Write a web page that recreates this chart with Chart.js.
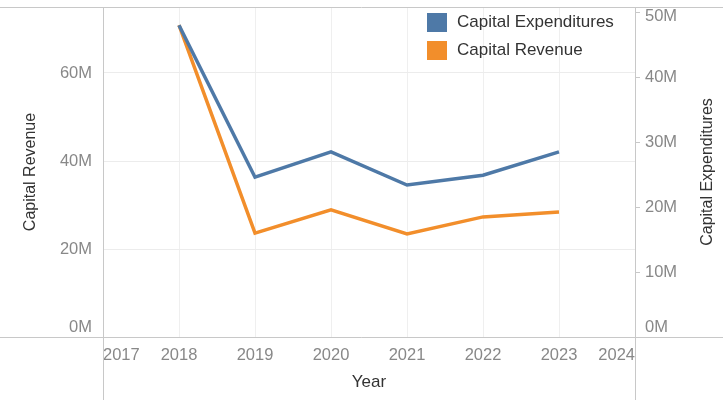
<!DOCTYPE html>
<html>
<head>
<meta charset="utf-8">
<script src="https://cdn.jsdelivr.net/npm/chart.js@4"></script>
<style>
  body { margin: 0; background: #fff; }
  #wrap { position: relative; width: 723px; height: 400px; font-family: "Liberation Sans", Arial, sans-serif; }
  #legend { position: absolute; left: 427px; top: 8px; }
  .item { display: flex; align-items: center; height: 28px; font-size: 17px; color: #333; }
  .swatch { width: 20px; height: 19px; margin-right: 10px; }
</style>
</head>
<body>
<div id="wrap">
  <canvas id="capChart" width="723" height="400"></canvas>
  <div id="legend"></div>
</div>
<script>
// values
const years = [2018, 2019, 2020, 2021, 2022, 2023];
const capitalExpenditures = [48.0, 24.6, 28.5, 23.4, 24.9, 28.5]; // millions, right axis
const capitalRevenue = [70.9, 23.6, 28.9, 23.4, 27.3, 28.4];     // millions, left axis
const yearTicks = [2017, 2018, 2019, 2020, 2021, 2022, 2023, 2024];

const BLUE = '#4e79a7';
const ORANGE = '#f28e2b';
const FONT = '"Liberation Sans", Arial, sans-serif';

const toPoints = vals => years.map((y, i) => ({ x: y, y: vals[i] }));

// fixed box sizes, no label overhang padding
const fixWidth = w => s => { s.width = w; s.paddingTop = 0; s.paddingBottom = 0; };

// pane borders like the original dashboard
const frame = {
    id: 'frame',
    afterDraw(chart) {
        const { ctx, chartArea: a, width, height } = chart;
        ctx.save();
        ctx.strokeStyle = '#c8c8c8';
        ctx.lineWidth = 1;
        ctx.beginPath();
        ctx.moveTo(0, a.top + 0.5); ctx.lineTo(width, a.top + 0.5);
        ctx.moveTo(0, a.bottom + 0.5); ctx.lineTo(width, a.bottom + 0.5);
        ctx.moveTo(a.left + 0.5, a.top); ctx.lineTo(a.left + 0.5, height);
        ctx.moveTo(a.right + 0.5, a.top); ctx.lineTo(a.right + 0.5, height);
        ctx.stroke();
        // right axis title reads bottom to top
        ctx.translate(708, (a.top + a.bottom) / 2);
        ctx.rotate(-Math.PI / 2);
        ctx.fillStyle = '#333';
        ctx.font = '16px ' + FONT;
        ctx.textAlign = 'center';
        ctx.textBaseline = 'middle';
        ctx.fillText('Capital Expenditures', 0, 0);
        ctx.restore();
    }
};

const chart = new Chart(document.getElementById('capChart'), {
    type: 'line',
    data: {
        datasets: [{
            label: 'Capital Expenditures',
            data: toPoints(capitalExpenditures),
            borderColor: BLUE,
            backgroundColor: BLUE,
            borderWidth: 3.5,
            pointRadius: 0,
            yAxisID: 'yRight'
        }, {
            label: 'Capital Revenue',
            data: toPoints(capitalRevenue),
            borderColor: ORANGE,
            backgroundColor: ORANGE,
            borderWidth: 3.5,
            pointRadius: 0,
            yAxisID: 'yLeft'
        }]
    },
    options: {
        responsive: false,
        animation: false,
        layout: { autoPadding: false, padding: { top: 7 } },
        plugins: {
            legend: { display: false },
            tooltip: { enabled: false }
        },
        scales: {
            x: {
                type: 'linear',
                min: yearTicks[0],
                max: yearTicks[yearTicks.length - 1],
                afterBuildTicks: s => { s.ticks = yearTicks.map(v => ({ value: v })); },
                afterFit: s => { s.height = 63; s.paddingLeft = 0; s.paddingRight = 0; },
                border: { display: false },
                grid: { color: '#efefef', drawTicks: false },
                ticks: {
                    align: 'inner',
                    padding: 9,
                    color: '#888',
                    font: { family: FONT, size: 16.5 },
                    callback: v => String(v)
                },
                title: {
                    display: true,
                    text: 'Year',
                    color: '#333',
                    font: { family: FONT, size: 17 },
                    padding: { top: 0, bottom: 7 }
                }
            },
            yLeft: {
                position: 'left',
                min: 0,
                max: 75,
                afterFit: fixWidth(103),
                border: { display: false },
                grid: { color: '#ececec', drawTicks: false },
                ticks: {
                    stepSize: 20,
                    includeBounds: false,
                    padding: 11,
                    color: '#888',
                    font: { family: FONT, size: 16.5 },
                    callback: v => v === 0 ? ['0M', ''] : v + 'M'
                },
                title: {
                    display: true,
                    text: 'Capital Revenue',
                    color: '#333',
                    font: { family: FONT, size: 16 },
                    padding: { top: 21, bottom: 0 }
                }
            },
            yRight: {
                position: 'right',
                min: 0,
                max: 50.8,
                afterFit: fixWidth(88),
                border: { display: false },
                grid: { drawOnChartArea: false, color: '#c8c8c8', tickLength: 5 },
                ticks: {
                    stepSize: 10,
                    includeBounds: false,
                    padding: 5,
                    color: '#888',
                    // top label nudged down a little so it stays inside the pane
                    font: ctx => ({ family: FONT, size: 16.5, lineHeight: ctx.tick && ctx.tick.value === 50 ? 0.5 : 1.2 }),
                    callback: v => v === 0 ? ['0M', ''] : v === 50 ? ['', '50M'] : v + 'M'
                }
            }
        }
    },
    plugins: [frame]
});

// legend as html, built from the chart's datasets
document.getElementById('legend').innerHTML = chart.data.datasets.map(d =>
    `<div class="item"><span class="swatch" style="background:${d.borderColor}"></span>${d.label}</div>`
).join('');
</script>
</body>
</html>
